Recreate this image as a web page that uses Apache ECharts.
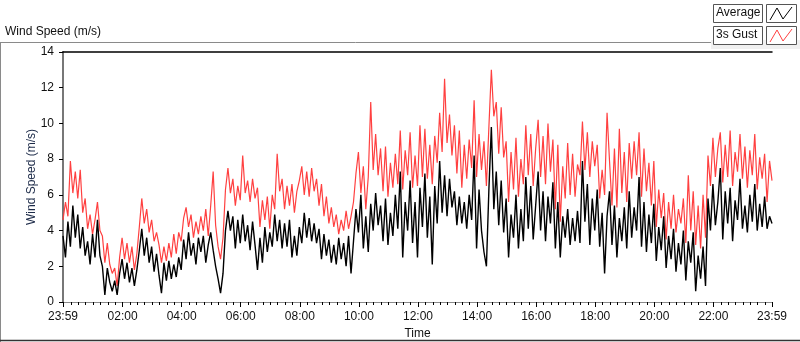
<!DOCTYPE html>
<html>
<head>
<meta charset="utf-8">
<title>Wind Speed</title>
<script src="https://cdn.jsdelivr.net/npm/echarts@6/dist/echarts.min.js"></script>
<style>
  html, body { margin: 0; padding: 0; background: #fff; }
  #chart { width: 800px; height: 342px; }
</style>
</head>
<body>
<div id="chart"></div>
<script>
// samples every 5 minutes, starting 23:59 (minute 0) up to 23:59 next day (minute 1440)
var sampleStep = 5

var average = [
  3.7, 2.5, 4.5, 3.1, 5.4, 3.6, 4.9, 3.0, 4.2, 2.6,
  3.4, 2.1, 3.8, 2.5, 4.6, 2.6, 2.0, 0.4, 1.9, 1.1,
  0.6, 1.2, 0.4, 1.6, 2.4, 1.3, 2.2, 1.1, 1.9, 0.9,
  1.8, 2.9, 4.1, 2.6, 3.6, 2.2, 3.1, 1.7, 2.7, 1.5,
  0.5, 2.2, 1.2, 2.3, 1.3, 2.1, 1.4, 2.5, 1.8, 3.5,
  2.4, 3.9, 2.6, 3.3, 2.1, 3.6, 2.8, 3.7, 2.2, 3.2,
  3.9, 2.9, 2.0, 1.3, 0.5, 1.6, 4.0, 5.1, 4.0, 4.8,
  3.0, 4.6, 3.3, 4.9, 3.4, 4.3, 2.9, 4.5, 3.2, 1.8,
  3.6, 2.2, 4.2, 2.8, 3.9, 3.1, 4.9, 3.4, 4.6, 3.0,
  4.4, 3.1, 4.6, 2.5, 3.7, 2.6, 4.2, 3.3, 5.0, 3.6,
  4.7, 3.4, 4.4, 3.3, 4.1, 2.4, 3.8, 2.6, 3.5, 2.2,
  3.2, 2.1, 3.6, 2.4, 3.3, 2.0, 3.7, 1.6, 3.4, 5.2,
  3.9, 6.0, 3.0, 4.8, 2.8, 5.5, 4.0, 6.1, 4.3, 5.4,
  3.4, 5.8, 3.2, 5.0, 3.7, 6.0, 4.1, 7.3, 2.5, 5.6,
  4.0, 6.8, 3.3, 5.6, 2.5, 6.4, 4.2, 7.2, 3.6, 5.9,
  2.1, 6.5, 4.4, 7.9, 5.0, 7.1, 4.8, 6.9, 5.3, 6.2,
  4.3, 5.9, 4.4, 5.6, 4.1, 6.0, 4.6, 8.2, 3.0, 6.3,
  4.0, 2.8, 2.0, 6.3, 9.8, 5.2, 7.3, 4.3, 6.8, 3.9,
  5.8, 2.5, 4.9, 3.6, 6.0, 3.0, 5.2, 3.4, 7.0, 4.1,
  6.5, 3.5, 5.4, 7.3, 4.0, 6.2, 3.4, 5.9, 4.4, 6.7,
  3.0, 5.6, 2.5, 4.8, 3.6, 5.2, 3.2, 4.7, 3.4, 5.1,
  3.3, 7.9, 4.5, 6.6, 3.2, 5.8, 4.0, 6.3, 3.1, 5.0,
  1.6, 4.8, 6.2, 3.2, 5.4, 2.5, 4.7, 3.4, 5.3, 3.0,
  6.2, 3.6, 5.3, 4.0, 7.0, 3.1, 5.6, 2.8, 4.9, 3.3,
  5.5, 2.3, 4.2, 2.9, 4.8, 1.9, 3.7, 2.4, 4.1, 1.7,
  3.3, 2.1, 4.0, 1.2, 3.4, 2.2, 3.9, 0.6, 2.6, 1.3,
  3.1, 0.9, 5.8, 4.0, 6.6, 4.3, 5.6, 7.5, 3.5, 6.2,
  4.4, 6.4, 3.4, 5.7, 4.6, 6.9, 4.1, 5.4, 3.9, 6.0,
  4.5, 6.6, 4.0, 5.5, 4.2, 5.9, 4.1, 4.8, 4.4
]

var gust = [
  4.6, 5.6, 4.8, 7.9, 6.1, 7.3, 5.8, 7.4, 5.0, 5.8,
  4.1, 4.9, 3.8, 4.6, 5.6, 4.0, 3.7, 2.2, 3.3, 2.1,
  1.6, 1.9, 0.9, 2.5, 3.6, 2.4, 3.3, 2.2, 3.1, 1.8,
  2.7, 4.2, 5.8, 4.4, 5.2, 3.9, 4.6, 3.4, 3.9, 3.2,
  2.2, 3.1, 2.3, 3.3, 2.5, 3.8, 2.7, 3.9, 3.4, 4.7,
  5.3, 4.2, 4.9, 3.6, 4.5, 3.8, 4.8, 4.0, 5.2, 3.7,
  5.4, 7.3, 4.3, 3.1, 2.4, 3.6, 6.3, 7.5, 6.1, 6.9,
  5.4, 6.5, 5.7, 8.2, 6.1, 6.8, 5.6, 6.9, 5.8, 6.4,
  4.2, 5.7, 4.6, 5.9, 4.1, 6.0, 5.2, 8.3, 6.2, 6.9,
  5.2, 6.5, 5.4, 6.6, 5.0, 6.2, 6.8, 7.6, 6.0, 7.3,
  5.9, 7.5, 6.2, 6.9, 5.4, 6.6, 4.8, 5.9, 4.4, 5.3,
  4.2, 4.9, 3.8, 4.6, 4.0, 5.1, 4.1, 4.8, 5.6, 7.2,
  8.4, 6.1, 7.6, 5.2, 7.0, 11.2, 7.4, 9.4, 7.1, 8.6,
  6.2, 8.7, 5.9, 7.8, 6.4, 8.3, 6.6, 9.6, 6.3, 8.5,
  7.1, 9.5, 6.4, 8.2, 6.5, 9.9, 7.0, 9.7, 6.9, 8.8,
  6.6, 9.3, 7.8, 10.6, 8.4, 12.5, 8.9, 10.5, 8.2, 9.9,
  7.2, 9.6, 6.4, 8.8, 6.9, 9.1, 7.5, 11.3, 7.0, 9.4,
  7.4, 9.0, 6.5, 9.8, 13.0, 10.4, 11.2, 8.3, 10.9, 8.1,
  9.0, 5.6, 8.4, 6.3, 9.2, 5.9, 8.0, 6.6, 9.9, 7.1,
  9.4, 6.5, 8.6, 10.2, 7.0, 9.3, 6.6, 10.0, 7.3, 9.1,
  5.2, 8.8, 4.5, 7.6, 5.8, 8.9, 6.0, 8.3, 5.9, 7.7,
  7.1, 10.1, 7.4, 9.5, 7.0, 9.0, 7.6, 8.8, 5.8, 7.4,
  6.0, 10.6, 7.9, 5.4, 8.6, 5.3, 9.7, 6.1, 8.4, 5.6,
  8.9, 6.9, 9.0, 7.1, 9.5, 5.9, 8.6, 6.2, 7.8, 5.4,
  7.9, 4.2, 6.3, 4.7, 6.1, 3.5, 5.6, 4.1, 6.0, 3.9,
  5.2, 4.4, 5.8, 3.3, 7.1, 4.0, 6.2, 3.2, 5.4, 3.0,
  6.0, 3.6, 8.2, 6.5, 9.2, 7.0, 8.6, 9.5, 6.7, 8.8,
  7.0, 9.6, 6.5, 8.4, 7.3, 9.4, 6.9, 8.7, 6.4, 8.5,
  7.1, 9.4, 6.3, 8.1, 6.9, 8.3, 5.6, 7.9, 6.8
]

// axis positions in minutes after 23:59
var labelMinutes = [0, 121, 241, 361, 481, 601, 721, 841, 961, 1081, 1201, 1321, 1440]
var minorTickMinutes = []
for (var m = 16; m < 1440; m += 15) {
  if (labelMinutes.indexOf(m) < 0) minorTickMinutes.push(m)
}

function timeLabel(v) {
  var t = (Math.round(v) - 1 + 1440) % 1440
  var h = Math.floor(t / 60)
  var mm = t % 60
  return (h < 10 ? '0' : '') + h + ':' + (mm < 10 ? '0' : '') + mm
}

function toPairs(arr) {
  return arr.map(function (v, i) { return [i * sampleStep, v] })
}

var textFont = 'Liberation Sans, Arial, sans-serif'

var chart = echarts.init(document.getElementById('chart'), null, { renderer: 'canvas' })
var option = {
  animation: false,
  textStyle: { fontFamily: textFont },
  grid: { left: 63, right: 28, top: 52, bottom: 40, outerBoundsMode: 'none', containLabel: false },
  xAxis: [
    {
      type: 'value',
      min: 0,
      max: 1440,
      position: 'bottom',
      name: 'Time',
      nameLocation: 'middle',
      nameGap: 26,
      nameMoveOverlap: false,
      nameTextStyle: { color: '#111', fontSize: 12, fontFamily: textFont },
      axisLine: { show: true, lineStyle: { color: '#8a8a8a', width: 1 } },
      axisTick: { show: true, customValues: labelMinutes, length: 5, lineStyle: { color: '#000' } },
      axisLabel: {
        customValues: labelMinutes,
        formatter: timeLabel,
        color: '#111',
        fontSize: 12,
        fontFamily: textFont,
        margin: 9,
        showMinLabel: true,
        showMaxLabel: true
      },
      splitLine: { show: false }
    },
    {
      type: 'value',
      min: 0,
      max: 1440,
      position: 'bottom',
      axisLine: { show: false },
      axisTick: { show: true, customValues: minorTickMinutes, length: 3, lineStyle: { color: '#000' } },
      axisLabel: { show: false },
      splitLine: { show: false }
    },
    {
      type: 'value',
      min: 0,
      max: 1440,
      position: 'top',
      axisLine: { show: true, lineStyle: { color: '#000', width: 1.5 } },
      axisTick: { show: false },
      axisLabel: { show: false },
      splitLine: { show: false }
    }
  ],
  yAxis: [
    {
      type: 'value',
      min: 0,
      max: 14,
      interval: 2,
      name: 'Wind Speed (m/s)',
      nameLocation: 'middle',
      nameGap: 25,
      nameMoveOverlap: false,
      nameRotate: 90,
      nameTextStyle: { color: '#1c2a48', fontSize: 12, fontFamily: textFont },
      axisLine: { show: true, lineStyle: { color: '#000', width: 1.5 } },
      axisTick: { show: true, length: 4, lineStyle: { color: '#000' } },
      axisLabel: { color: '#111', fontSize: 12, fontFamily: textFont, margin: 9 },
      splitLine: { show: false }
    },
    {
      type: 'value',
      min: 0,
      max: 14,
      position: 'right',
      axisLine: { show: true, lineStyle: { color: '#8a8a8a', width: 1.5 } },
      axisTick: { show: false },
      axisLabel: { show: false },
      splitLine: { show: false }
    }
  ],
  series: [
    {
      name: '3s Gust',
      type: 'line',
      xAxisIndex: 0,
      yAxisIndex: 0,
      showSymbol: false,
      data: toPairs(gust),
      lineStyle: { color: '#ff4040', width: 1.2 },
      itemStyle: { color: '#ff4040' }
    },
    {
      name: 'Average',
      type: 'line',
      xAxisIndex: 0,
      yAxisIndex: 0,
      showSymbol: false,
      data: toPairs(average),
      lineStyle: { color: '#000', width: 1.4 },
      itemStyle: { color: '#000' }
    }
  ],
  graphic: [
    // outer frame of the graph panel
    { type: 'line', shape: { x1: 0, y1: 42.5, x2: 711, y2: 42.5 }, style: { stroke: '#8a8a8a', lineWidth: 1 } },
    { type: 'line', shape: { x1: 0.5, y1: 42, x2: 0.5, y2: 342 }, style: { stroke: '#8a8a8a', lineWidth: 1 } },
    { type: 'line', shape: { x1: 0, y1: 340.5, x2: 800, y2: 340.5 }, style: { stroke: '#333', lineWidth: 1.5 } },
    { type: 'rect', shape: { x: 711, y: 40, width: 89, height: 9 }, style: { fill: '#f0f0f0' } },
    {
      type: 'text', left: 5, top: 26,
      style: { text: 'Wind Speed (m/s)', fill: '#111', font: '12px ' + textFont }
    },
    // legend: Average
    { type: 'rect', shape: { x: 713.5, y: 4.5, width: 49, height: 18 }, style: { fill: '#fff', stroke: '#555', lineWidth: 1 } },
    { type: 'text', left: 716, top: 7, style: { text: 'Average', fill: '#111', font: '12px ' + textFont } },
    { type: 'rect', shape: { x: 766.5, y: 4.5, width: 30, height: 18 }, style: { fill: '#fff', stroke: '#555', lineWidth: 1 } },
    { type: 'polyline', shape: { points: [[770, 20], [777, 8], [783, 19], [792, 7]] }, style: { stroke: '#000', lineWidth: 1, fill: null } },
    // legend: 3s Gust
    { type: 'rect', shape: { x: 713.5, y: 26.5, width: 49, height: 18 }, style: { fill: '#fff', stroke: '#555', lineWidth: 1 } },
    { type: 'text', left: 716, top: 29, style: { text: '3s Gust', fill: '#111', font: '12px ' + textFont } },
    { type: 'rect', shape: { x: 766.5, y: 26.5, width: 30, height: 18 }, style: { fill: '#fff', stroke: '#555', lineWidth: 1 } },
    { type: 'polyline', shape: { points: [[770, 42], [777, 30], [783, 41], [792, 29]] }, style: { stroke: '#ff4040', lineWidth: 1, fill: null } }
  ]
}
chart.setOption(option)
</script>
</body>
</html>
